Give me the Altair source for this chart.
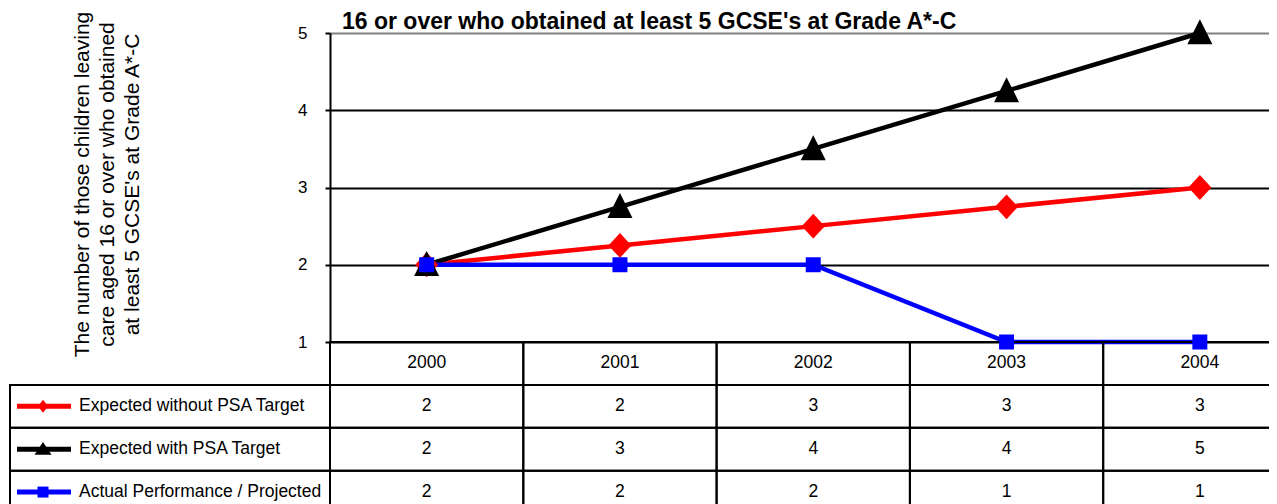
import altair as alt
import pandas as pd

# ---------------- data ----------------
years = ["2000", "2001", "2002", "2003", "2004"]
series_names = [
    "Expected without PSA Target",
    "Expected with PSA Target",
    "Actual Performance / Projected",
]
expected_without = [2.0, 2.25, 2.5, 2.75, 3.0]
expected_with = [2.0, 2.75, 3.5, 4.25, 5.0]
actual_projected = [2.0, 2.0, 2.0, 1.0, 1.0]
y_ticks = [1, 2, 3, 4, 5]
header_key = "Year"
title_text = "16 or over who obtained at least 5 GCSE's at Grade A*-C"
y_title_lines = [
    "The number of those children leaving",
    "care aged 16 or over who obtained",
    "at least 5 GCSE's at Grade A*-C",
]

# ---------------- styles ----------------
series_colors = ["#ff0000", "#000000", "#0000ff"]
plot_shapes = ["M0,-1.08L1,0L0,1.08L-1,0Z", "M0,-1.1L1,0.9L-1,0.9Z", "M-1,-1H1V1H-1Z"]
plot_sizes = [529, 625, 225]
key_shapes = ["M0,-1.3L1,0L0,1.3L-1,0Z", "M0,-0.85L1,0.65L-1,0.65Z", "M-1,-1H1V1H-1Z"]
key_sizes = [100, 289, 121]
FONT = "Liberation Sans"
TABLE_FONT_SIZE = 17.5

PLOT_W = 939
PLOT_H = 309
TABLE_BOTTOM = 480.5
BAND_RANGE = 966.5

# ---------------- frames ----------------
values_by_series = [expected_without, expected_with, actual_projected]
df = pd.DataFrame(
    [
        {"series": s, "row": s, "year": y, "value": v}
        for s, vals in zip(series_names, values_by_series)
        for y, v in zip(years, vals)
    ]
)
header_df = pd.DataFrame({"year": years, "row": [header_key] * len(years)})
grid_df = pd.DataFrame(
    [{"year": y, "row": r} for r in [header_key] + series_names for y in years]
)
key_df = pd.DataFrame({"row": series_names, "series": series_names, "col": ["key"] * 3})

# ---------------- scales ----------------
x_year = alt.X(
    "year:O",
    scale=alt.Scale(type="band", domain=years, range=[0, BAND_RANGE], paddingInner=0, paddingOuter=0),
    axis=None,
)
val_scale = alt.Scale(domain=[1, 5], range=[PLOT_H, 0], nice=False, zero=False)
y_axis = alt.Axis(
    values=y_ticks,
    grid=True,
    gridColor={"condition": {"test": "datum.value === 5", "value": "#808080"}, "value": "#000000"},
    gridWidth=2,
    domainColor="#000000",
    domainWidth=2,
    tickColor="#000000",
    tickWidth=2,
    tickSize=5,
    labelFont=FONT,
    labelFontSize=17,
    labelColor="#000000",
    labelPadding=18,
    title=y_title_lines,
    titleFont=FONT,
    titleFontSize=21,
    titleFontWeight="normal",
    titleColor="#000000",
    titleAngle=270,
    titleAlign="center",
    titleBaseline="top",
    titleLineHeight=25,
    titleX=-259,
    titleY=151,
)
y_val = alt.Y("value:Q", scale=val_scale, axis=y_axis)
y_val_noaxis = alt.Y("value:Q", scale=val_scale, axis=None)
row_scale = alt.Scale(
    type="band",
    domain=[header_key] + series_names,
    range=[PLOT_H, TABLE_BOTTOM],
    paddingInner=0,
    paddingOuter=0,
)
y_row = alt.Y("row:N", scale=row_scale, axis=None)
x_key = alt.X(
    "col:N",
    scale=alt.Scale(type="band", domain=["key"], range=[-320, 0], paddingInner=0, paddingOuter=0),
    axis=None,
)

# ---------------- data layers ----------------
base = alt.Chart(df)
lines = alt.layer(
    *[
        base.transform_filter(alt.datum.series == s)
        .mark_line(color=c, strokeWidth=4.5)
        .encode(x=x_year, y=y_val)
        for s, c in zip(series_names, series_colors)
    ]
)
markers = alt.layer(
    *[
        base.transform_filter(alt.datum.series == s)
        .mark_point(shape=shp, size=sz, filled=True, color=c, opacity=1, strokeWidth=0)
        .encode(x=x_year, y=y_val_noaxis)
        for s, c, shp, sz in zip(series_names, series_colors, plot_shapes, plot_sizes)
    ]
)

# ---------------- table ----------------
cells = alt.Chart(grid_df).mark_rect(
    fill="#ffffff", fillOpacity=0, stroke="#000000", strokeWidth=2
).encode(x=x_year, y=y_row)
header_text = alt.Chart(header_df).mark_text(
    font=FONT, fontSize=TABLE_FONT_SIZE, color="#000000", baseline="middle"
).encode(x=x_year, y=y_row, text="year:N")
value_text = base.mark_text(
    font=FONT, fontSize=TABLE_FONT_SIZE, color="#000000", baseline="middle"
).encode(x=x_year, y=y_row, text=alt.Text("value:Q", format=".0f"))
table = alt.layer(cells, header_text, value_text)

# ---------------- key column ----------------
kbase = alt.Chart(key_df)
key_cells = kbase.mark_rect(
    fill="#ffffff", fillOpacity=0, stroke="#000000", strokeWidth=2
).encode(x=x_key, y=y_row)
key_lines = alt.layer(
    *[
        kbase.transform_filter(alt.datum.series == s)
        .mark_point(shape="M-1,0H1", size=2916, filled=False, color=c, strokeWidth=5, opacity=1, xOffset=-126)
        .encode(x=x_key, y=y_row)
        for s, c in zip(series_names, series_colors)
    ]
)
key_marks = alt.layer(
    *[
        kbase.transform_filter(alt.datum.series == s)
        .mark_point(shape=shp, size=sz, filled=True, color=c, opacity=1, strokeWidth=0, xOffset=-127)
        .encode(x=x_key, y=y_row)
        for s, c, shp, sz in zip(series_names, series_colors, key_shapes, key_sizes)
    ]
)
key_text = kbase.mark_text(
    font=FONT, fontSize=TABLE_FONT_SIZE, color="#000000", align="left", baseline="middle", dx=-91
).encode(x=x_key, y=y_row, text="row:N")
key = alt.layer(key_cells, key_lines, key_marks, key_text)

top = alt.layer(lines, table, markers).resolve_scale(y="independent")

chart = (
    alt.layer(top, key)
    .resolve_scale(x="independent", y="independent")
    .properties(
        width=PLOT_W,
        height=471,
        autosize=alt.AutoSizeParams(type="none"),
        padding={"left": 322, "top": 25, "right": 0, "bottom": 0},
        background="#ffffff",
        title=alt.TitleParams(
            text=title_text,
            font=FONT,
            fontSize=23,
            fontWeight="bold",
            color="#000000",
            anchor="start",
            frame="group",
            dx=12,
            dy=27,
        ),
    )
    .configure_axis(labelFont=FONT, labelFontSize=17, labelColor="#000000")
    .configure_view(strokeWidth=0)
)

chart.save("out.html", embed_options={"renderer": "svg", "actions": False})
